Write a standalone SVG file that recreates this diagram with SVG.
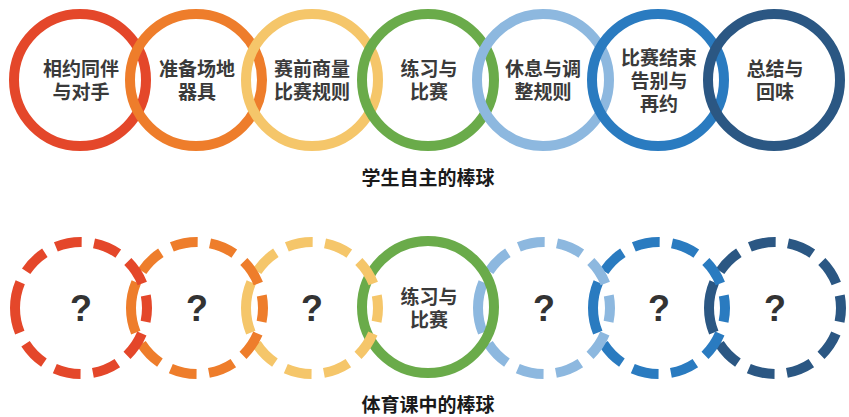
<svg xmlns="http://www.w3.org/2000/svg" width="849" height="417" viewBox="0 0 849 417">
<style>
.ring{fill:none;stroke-width:10}
.dash{fill:none;stroke-width:10;stroke-dasharray:23 10.8}
.lbl{font-family:"Noto Sans CJK SC","Noto Sans",sans-serif;font-weight:bold;font-size:19px;fill:#3a3a3a;text-anchor:middle}
.q{font-family:"Liberation Sans",Arial,sans-serif;font-weight:bold;font-size:36px;fill:#333;text-anchor:middle}
.cap{font-family:"Noto Sans CJK SC","Noto Sans",sans-serif;font-weight:bold;font-size:19px;fill:#1a1a1a;text-anchor:middle}
.c1{stroke:#e4472a}.c2{stroke:#ee7d2b}.c3{stroke:#f5c66a}.c4{stroke:#6aab4a}.c5{stroke:#8db8df}.c6{stroke:#2a7bc0}.c7{stroke:#2b5783}
</style>
<g id="top-row">
<g id="t1"><circle class="ring c1" cx="80" cy="80" r="66"/><text class="lbl" x="81" y="76">相约同伴</text><text class="lbl" x="81" y="99">与对手</text></g>
<g id="t2"><circle class="ring c2" cx="196" cy="80" r="66"/><text class="lbl" x="197" y="76">准备场地</text><text class="lbl" x="197" y="99">器具</text></g>
<g id="t3"><circle class="ring c3" cx="312" cy="80" r="66"/><text class="lbl" x="312" y="76">赛前商量</text><text class="lbl" x="312" y="99">比赛规则</text></g>
<g id="t4"><circle class="ring c4" cx="428" cy="80" r="66"/><text class="lbl" x="429" y="76">练习与</text><text class="lbl" x="429" y="99">比赛</text></g>
<g id="t5"><circle class="ring c5" cx="543" cy="80" r="66"/><text class="lbl" x="543" y="76">休息与调</text><text class="lbl" x="543" y="99">整规则</text></g>
<g id="t6"><circle class="ring c6" cx="658" cy="80" r="66"/><text class="lbl" x="659" y="65">比赛结束</text><text class="lbl" x="659" y="88">告别与</text><text class="lbl" x="659" y="111">再约</text></g>
<g id="t7"><circle class="ring c7" cx="774" cy="80" r="66"/><text class="lbl" x="775" y="76">总结与</text><text class="lbl" x="775" y="99">回味</text></g>
</g>
<text id="cap1" class="cap" x="428" y="185">学生自主的棒球</text>
<g id="bottom-row">
<g id="b7"><circle class="dash c7" cx="775" cy="308" r="66" pathLength="360" transform="rotate(180 775 308)"/><text class="q" x="775" y="321">?</text></g>
<g id="b6"><circle class="dash c6" cx="659" cy="308" r="66" pathLength="360" transform="rotate(180 659 308)"/><text class="q" x="659" y="321">?</text></g>
<g id="b5"><circle class="dash c5" cx="544" cy="308" r="66" pathLength="360" transform="rotate(180 544 308)"/><text class="q" x="544" y="321">?</text></g>
<g id="b4"><circle class="ring c4" cx="428" cy="307" r="66"/><text class="lbl" x="429" y="304">练习与</text><text class="lbl" x="429" y="327">比赛</text></g>
<g id="b3"><circle class="dash c3" cx="312" cy="308" r="66" pathLength="360" transform="rotate(180 312 308)"/><text class="q" x="312" y="321">?</text></g>
<g id="b2"><circle class="dash c2" cx="197" cy="308" r="66" pathLength="360" transform="rotate(180 197 308)"/><text class="q" x="197" y="321">?</text></g>
<g id="b1"><circle class="dash c1" cx="81" cy="308" r="66" pathLength="360" transform="rotate(180 81 308)"/><text class="q" x="81" y="321">?</text></g>
</g>
<text id="cap2" class="cap" x="428" y="412">体育课中的棒球</text>
<g id="connectors"/>
</svg>
